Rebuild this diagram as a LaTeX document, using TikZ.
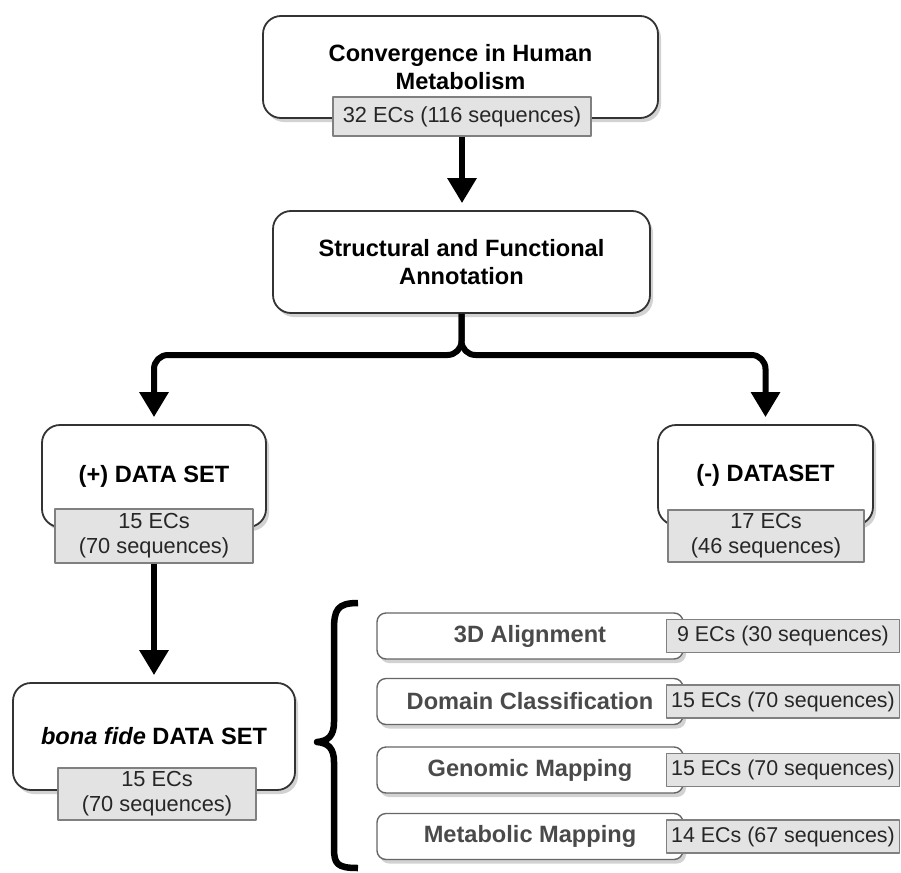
\documentclass[tikz,border=0pt]{standalone}
\usepackage{fontspec}
\setmainfont{Liberation Sans}
\usetikzlibrary{arrows.meta,shadows}
\definecolor{boxline}{HTML}{333333}
\definecolor{tagfill}{HTML}{E3E3E3}
\definecolor{tagline}{HTML}{808080}
\definecolor{subtext}{HTML}{4A4A4A}
\begin{document}
\begin{tikzpicture}[x=1pt, y=-1pt, line join=round,
	stage/.style={draw=boxline, line width=1.8pt, fill=white, rounded corners=18pt, align=center,
		font=\fontsize{23.6}{28}\selectfont\bfseries,
		drop shadow={shadow xshift=3pt, shadow yshift=-4pt, fill=black!35}},
	substage/.style={stage, rounded corners=9pt, draw=black!60, line width=1.4pt, text=subtext},
	tag/.style={draw=tagline, fill=tagfill, line width=1.4pt, align=center, inner sep=0pt,
		font=\fontsize{21.8}{25}\selectfont, text=black!85},
	smalltag/.style={tag, font=\fontsize{21.4}{25}\selectfont},
	flow/.style={line width=6pt, -{Triangle[width=28pt,length=25pt]}, shorten >=7pt}]
	\useasboundingbox (0,0) rectangle (901,872);
	% main stages
	\node[stage, minimum width=395pt, minimum height=102pt] (conv) at (460.5,67) {Convergence in Human\\Metabolism};
	\node[tag, minimum width=258pt, minimum height=39pt] (convtag) at (462,116.5) {32 ECs (116 sequences)};
	\node[stage, minimum width=377pt, minimum height=102pt] (annot) at (461.5,262) {Structural and Functional\\Annotation};
	\node[stage, minimum width=224pt, minimum height=102pt] (plus) at (154,476) {(+) DATA SET};
	\node[tag, minimum width=198pt, minimum height=54pt] (plustag) at (154,536) {15 ECs\\(70 sequences)};
	\node[stage, minimum width=215pt, minimum height=100pt] (minus) at (765.5,475) {(-) DATASET};
	\node[tag, minimum width=196pt, minimum height=52pt] (minustag) at (766,536) {17 ECs\\(46 sequences)};
	\node[stage, minimum width=282pt, minimum height=107pt] (bona) at (154,736.5) {\textit{bona fide} DATA SET};
	\node[tag, minimum width=198pt, minimum height=52pt] (bonatag) at (157,794) {15 ECs\\(70 sequences)};
	% analyses
	\foreach \n/\y/\t/\e in {align/636/3D Alignment/9 ECs (30 sequences),
		domain/701.5/Domain Classification/15 ECs (70 sequences),
		genome/770/Genomic Mapping/15 ECs (70 sequences),
		metab/836.5/Metabolic Mapping/14 ECs (67 sequences)}
	{
		\node[substage, minimum width=306pt, minimum height=46pt] (\n) at (530,\y) {\t};
		\node[smalltag, minimum width=233pt, minimum height=33pt] (\n-tag) at (783,\y) {\e};
	}
	% arrows
	\coordinate (split) at (461.5,355);
	\draw[flow] (convtag.south) -- (convtag.south |- annot.north);
	\draw[flow, rounded corners=14pt] (annot.south) -- (split) -| (plus.north);
	\draw[flow, rounded corners=14pt] (annot.south) -- (split) -| (minus.north);
	\draw[flow] (plustag.south) -- (bona.north);
	% brace
	\draw[line width=6.5pt] (358,603) .. controls (337,603) and (334,610) .. (334,630) -- (334,722)
		.. controls (334,736) and (328,741) .. (317,742) .. controls (328,743) and (334,748) .. (334,762)
		-- (334,848) .. controls (334,864) and (337,868) .. (358,868);
\end{tikzpicture}
\end{document}
